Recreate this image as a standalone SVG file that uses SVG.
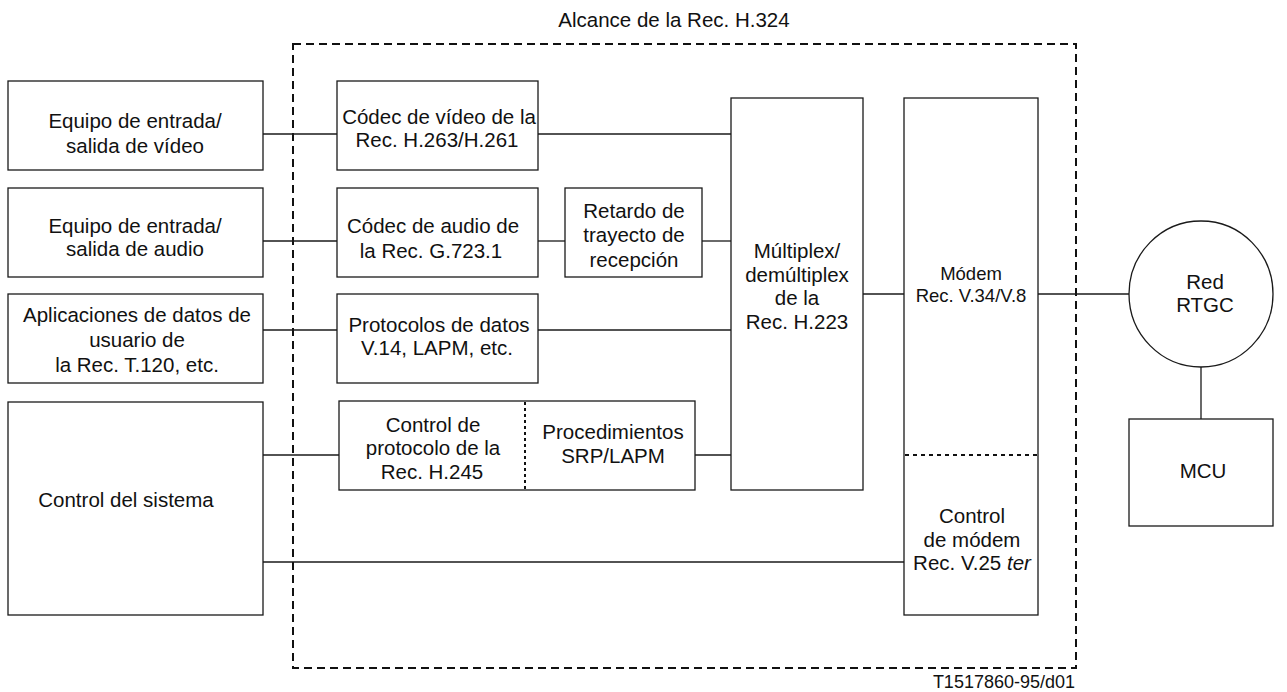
<svg xmlns="http://www.w3.org/2000/svg" width="1287" height="692" viewBox="0 0 1287 692">
<style>
.b{fill:#fff;stroke:#1a1a1a;stroke-width:1.3}
.t{font-family:"Liberation Sans",Arial,sans-serif;font-size:20.5px;fill:#111;text-anchor:middle}
.s{font-size:18.5px}
.c{stroke:#1a1a1a;stroke-width:1.3;fill:none}
.dash{stroke:#111;stroke-width:2;fill:none;stroke-dasharray:8 5}
.dot{stroke:#111;stroke-width:2;fill:none;stroke-dasharray:3 3}
</style>
<rect width="1287" height="692" fill="#fff"/>
<g id="scope">
<rect class="dash" x="293" y="44" width="783" height="624"/>
<text class="t" x="674" y="27">Alcance de la Rec. H.324</text>
</g>
<g id="connectors">
<line class="c" x1="263" y1="134" x2="337" y2="134"/>
<line class="c" x1="263" y1="241" x2="337" y2="241"/>
<line class="c" x1="263" y1="330" x2="337" y2="330"/>
<line class="c" x1="263" y1="455" x2="339" y2="455"/>
<line class="c" x1="263" y1="562" x2="904" y2="562"/>
<line class="c" x1="538" y1="134" x2="731" y2="134"/>
<line class="c" x1="538" y1="241" x2="565" y2="241"/>
<line class="c" x1="702" y1="241" x2="731" y2="241"/>
<line class="c" x1="538" y1="330" x2="731" y2="330"/>
<line class="c" x1="695" y1="455" x2="731" y2="455"/>
<line class="c" x1="863" y1="294" x2="904" y2="294"/>
<line class="c" x1="1038" y1="294" x2="1129" y2="294"/>
<line class="c" x1="1201" y1="367" x2="1201" y2="419"/>
</g>
<g id="video-io">
<rect class="b" x="8" y="81" width="255" height="89"/>
<text class="t" x="135" y="128">Equipo de entrada/</text>
<text class="t" x="135" y="153">salida de vídeo</text>
</g>
<g id="audio-io">
<rect class="b" x="8" y="188" width="255" height="89"/>
<text class="t" x="135" y="233">Equipo de entrada/</text>
<text class="t" x="135" y="256">salida de audio</text>
</g>
<g id="data-apps">
<rect class="b" x="8" y="294" width="255" height="89"/>
<text class="t" x="137" y="322">Aplicaciones de datos de</text>
<text class="t" x="137" y="347">usuario de</text>
<text class="t" x="137" y="372">la Rec. T.120, etc.</text>
</g>
<g id="system-control">
<rect class="b" x="8" y="402" width="255" height="213"/>
<text class="t" x="126" y="507">Control del sistema</text>
</g>
<g id="video-codec">
<rect class="b" x="337" y="81" width="201" height="89"/>
<text class="t" x="439" y="124">Códec de vídeo de la</text>
<text class="t" x="437" y="147">Rec. H.263/H.261</text>
</g>
<g id="audio-codec">
<rect class="b" x="337" y="188" width="201" height="89"/>
<text class="t" x="433" y="233">Códec de audio de</text>
<text class="t" x="431" y="258">la Rec. G.723.1</text>
</g>
<g id="delay">
<rect class="b" x="565" y="188" width="137" height="89"/>
<text class="t" x="634" y="218">Retardo de</text>
<text class="t" x="634" y="242">trayecto de</text>
<text class="t" x="634" y="267">recepción</text>
</g>
<g id="data-protocols">
<rect class="b" x="337" y="294" width="201" height="89"/>
<text class="t" x="439" y="332">Protocolos de datos</text>
<text class="t" x="437" y="355">V.14, LAPM, etc.</text>
</g>
<g id="control-protocol">
<rect class="b" x="339" y="401" width="356" height="89"/>
<line class="dot" x1="525" y1="402" x2="525" y2="490"/>
<text class="t" x="433" y="432">Control de</text>
<text class="t" x="433" y="455">protocolo de la</text>
<text class="t" x="432" y="479">Rec. H.245</text>
<text class="t" x="613" y="439">Procedimientos</text>
<text class="t" x="613" y="463">SRP/LAPM</text>
</g>
<g id="mux">
<rect class="b" x="731" y="98" width="132" height="392"/>
<text class="t" x="797" y="258">Múltiplex/</text>
<text class="t" x="797" y="282">demúltiplex</text>
<text class="t" x="797" y="305">de la</text>
<text class="t" x="797" y="329">Rec. H.223</text>
</g>
<g id="modem">
<rect class="b" x="904" y="98" width="134" height="517"/>
<line class="dot" x1="905" y1="455" x2="1037" y2="455" style="stroke-dasharray:4 4"/>
<text class="t s" x="971" y="280">Módem</text>
<text class="t s" x="971" y="302">Rec. V.34/V.8</text>
<text class="t" x="972" y="523">Control</text>
<text class="t" x="972" y="547">de módem</text>
<text class="t" x="972" y="570">Rec. V.25 <tspan font-style="italic">ter</tspan></text>
</g>
<g id="network">
<ellipse class="b" cx="1201" cy="294" rx="72" ry="73"/>
<text class="t" x="1205" y="289">Red</text>
<text class="t" x="1205" y="312">RTGC</text>
</g>
<g id="mcu">
<rect class="b" x="1129" y="419" width="144" height="107"/>
<text class="t" x="1203" y="478">MCU</text>
</g>
<text class="t" x="1075" y="688" style="text-anchor:end;font-size:18px">T1517860-95/d01</text>
</svg>
